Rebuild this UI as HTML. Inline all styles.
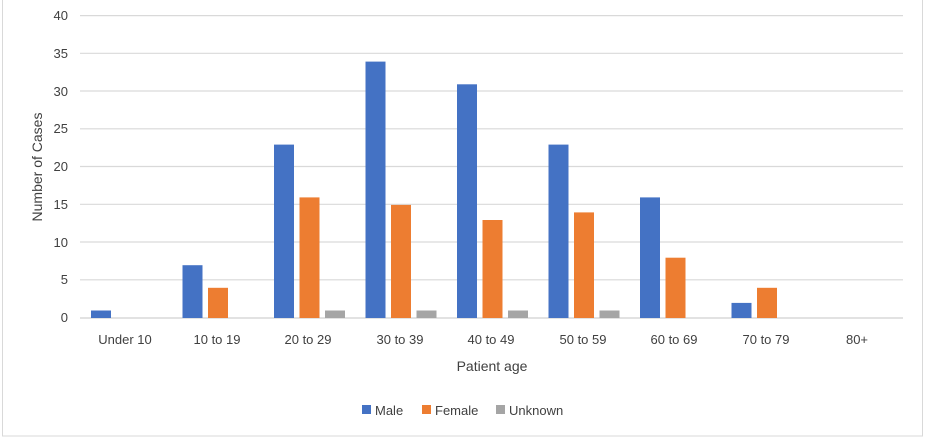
<!DOCTYPE html>
<html><head><meta charset="utf-8"><style>
html,body{margin:0;padding:0;background:#fff;}
svg{display:block;font-family:"Liberation Sans",sans-serif;}
</style></head><body>
<svg width="926" height="438" viewBox="0 0 926 438" xmlns="http://www.w3.org/2000/svg">
<rect x="2.5" y="-2" width="920" height="438" fill="#fff" stroke="#d9d9d9" stroke-width="1"/>
<g stroke="#d9d9d9" stroke-width="1.2">
<line x1="80" x2="903" y1="15.6" y2="15.6"/>
<line x1="80" x2="903" y1="53.3" y2="53.3"/>
<line x1="80" x2="903" y1="91" y2="91"/>
<line x1="80" x2="903" y1="128.8" y2="128.8"/>
<line x1="80" x2="903" y1="166.5" y2="166.5"/>
<line x1="80" x2="903" y1="204.3" y2="204.3"/>
<line x1="80" x2="903" y1="242" y2="242"/>
<line x1="80" x2="903" y1="279.8" y2="279.8"/>
</g>
<g fill="#404040" font-size="13" text-anchor="end">
<text x="68" y="20">40</text><text x="68" y="58">35</text><text x="68" y="96">30</text>
<text x="68" y="133">25</text><text x="68" y="171">20</text><text x="68" y="209">15</text>
<text x="68" y="247">10</text><text x="68" y="284">5</text><text x="68" y="322">0</text>
</g>
<text transform="translate(42,167) rotate(-90)" text-anchor="middle" font-size="14" fill="#404040">Number of Cases</text>
<g id="bars"></g>
<line x1="80" x2="903" y1="318" y2="318" stroke="#d9d9d9" stroke-width="1.5"/>
<g fill="#404040" font-size="13" text-anchor="middle">
<text x="125" y="344">Under 10</text><text x="217" y="344">10 to 19</text><text x="308" y="344">20 to 29</text>
<text x="400" y="344">30 to 39</text><text x="491" y="344">40 to 49</text><text x="583" y="344">50 to 59</text>
<text x="674" y="344">60 to 69</text><text x="766" y="344">70 to 79</text><text x="857" y="344">80+</text>
</g>
<text x="492" y="371" text-anchor="middle" font-size="14" fill="#404040">Patient age</text>
<rect x="362" y="405" width="9" height="9" fill="#4472c4"/>
<text x="375" y="415" font-size="13" fill="#404040">Male</text>
<rect x="422" y="405" width="9" height="9" fill="#ed7d31"/>
<text x="435" y="415" font-size="13" fill="#404040">Female</text>
<rect x="496" y="405" width="9" height="9" fill="#a5a5a5"/>
<text x="509" y="415" font-size="13" fill="#404040">Unknown</text>
<g>
<rect x="91" y="310.5" width="20" height="7.5" fill="#4472c4"/>
<rect x="182.5" y="265.2" width="20" height="52.8" fill="#4472c4"/>
<rect x="208" y="287.8" width="20" height="30.2" fill="#ed7d31"/>
<rect x="274" y="144.6" width="20" height="173.4" fill="#4472c4"/>
<rect x="299.5" y="197.4" width="20" height="120.6" fill="#ed7d31"/>
<rect x="325" y="310.5" width="20" height="7.5" fill="#a5a5a5"/>
<rect x="365.5" y="61.6" width="20" height="256.4" fill="#4472c4"/>
<rect x="391" y="204.9" width="20" height="113.1" fill="#ed7d31"/>
<rect x="416.5" y="310.5" width="20" height="7.5" fill="#a5a5a5"/>
<rect x="457" y="84.3" width="20" height="233.7" fill="#4472c4"/>
<rect x="482.5" y="220" width="20" height="98" fill="#ed7d31"/>
<rect x="508" y="310.5" width="20" height="7.5" fill="#a5a5a5"/>
<rect x="548.5" y="144.6" width="20" height="173.4" fill="#4472c4"/>
<rect x="574" y="212.4" width="20" height="105.6" fill="#ed7d31"/>
<rect x="599.5" y="310.5" width="20" height="7.5" fill="#a5a5a5"/>
<rect x="640" y="197.4" width="20" height="120.6" fill="#4472c4"/>
<rect x="665.5" y="257.7" width="20" height="60.3" fill="#ed7d31"/>
<rect x="731.5" y="302.9" width="20" height="15.1" fill="#4472c4"/>
<rect x="757" y="287.8" width="20" height="30.2" fill="#ed7d31"/>
</g>
</svg>
</body></html>
